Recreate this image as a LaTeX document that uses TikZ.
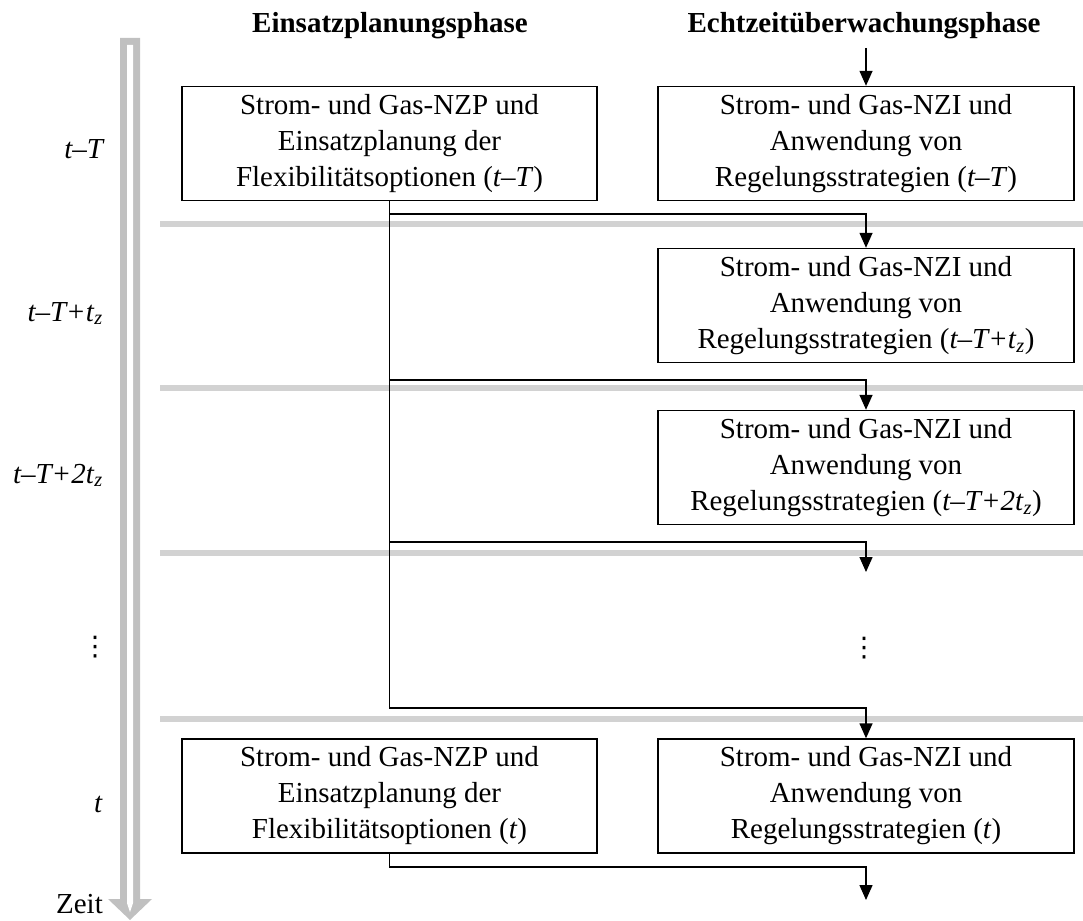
\documentclass[tikz,border=0pt]{standalone}
\usepackage{fontspec}
\setmainfont{Liberation Serif}
\newfontfamily\symfont{DejaVu Sans}
\usetikzlibrary{arrows.meta}
\definecolor{arrowgray}{RGB}{192,192,192}
\definecolor{linegray}{RGB}{210,210,210}
% italic t with subscript z
\newcommand{\tz}{\textit{t}\textsubscript{\textit{z}}}
% vertical ellipsis glyph
\newcommand{\dotcol}{{\symfont\fontsize{27}{27}\selectfont ⋮}}

\begin{document}
\begin{tikzpicture}[x=1pt,y=-1pt,
  every node/.style={font=\fontsize{29}{36}\selectfont, inner sep=0pt},
  box/.style={draw, line width=1.4pt, minimum width=416pt, minimum height=114pt, align=center},
  flow/.style={line width=1.4pt},
  arr/.style={flow, -{Triangle[width=13pt,length=15pt]}},
  sep/.style={linegray, line width=6pt},
  head/.style={font=\fontsize{29}{36}\selectfont\bfseries, anchor=base},
  tlabel/.style={anchor=base east}]

\useasboundingbox (0,0) rectangle (1083,920);

% hollow time arrow
\fill[arrowgray] (120,38) -- (140,38) -- (140,899) -- (152,899) -- (130,920)
  -- (108,899) -- (120,899) -- cycle;
\fill[white] (127,45) -- (133,45) -- (133,903) -- (130,912) -- (127,903) -- cycle;

% separators between time steps
\foreach \yy in {223.5,388,553,719}
  \draw[sep] (160,\yy) -- (1083,\yy);

% column headings
\node[head] (h1) at (390,33) {Einsatzplanungsphase};
\node[head] (h2) at (864,33) {Echtzeitüberwachungsphase};

% time labels
\node[tlabel] (l1) at (105,159) {\textit{t–T}};
\node[tlabel] (l2) at (103,321) {\textit{t–T+}\tz};
\node[tlabel] (l3) at (103,483) {\textit{t–T+2}\tz};
\node (l4) at (95,647) {\dotcol};
\node[tlabel] (l5) at (103,812) {\textit{t}};
\node[tlabel] (zeit) at (103,913) {Zeit};

% planning boxes
\node[box, minimum width=415pt] (p1) at (389.5,143.5)
  {Strom- und Gas-NZP und\\Einsatzplanung der\\Flexibilitätsoptionen (\textit{t–T})};
\node[box, minimum width=415pt] (p2) at (389.5,796)
  {Strom- und Gas-NZP und\\Einsatzplanung der\\Flexibilitätsoptionen (\textit{t})};

% monitoring boxes
\node[box] (m1) at (866,143.5)
  {Strom- und Gas-NZI und\\Anwendung von\\Regelungsstrategien (\textit{t–T})};
\node[box] (m2) at (866,305.5)
  {Strom- und Gas-NZI und\\Anwendung von\\Regelungsstrategien (\textit{t–T+}\tz)};
\node[box] (m3) at (866,467.5)
  {Strom- und Gas-NZI und\\Anwendung von\\Regelungsstrategien (\textit{t–T+2}\tz)};
\node[box] (m4) at (866,796)
  {Strom- und Gas-NZI und\\Anwendung von\\Regelungsstrategien (\textit{t})};
\node (d2) at (864,648) {\dotcol};

% connector points
\coordinate (start) at (866,48);
\coordinate (j1) at (389.5,214);
\coordinate (j2) at (389.5,380);
\coordinate (j3) at (389.5,542);
\coordinate (j4) at (389.5,708);
\coordinate (open) at (866,572);
\coordinate (j5) at (389.5,867);
\coordinate (out) at (866,900);

% connectors
\draw[arr] (start) -- (m1.north);
\draw[arr] (p1.south) -- (j4) -| (m4.north);
\draw[arr] (j1) -| (m2.north);
\draw[arr] (j2) -| (m3.north);
\draw[arr] (j3) -| (open);
\draw[arr] (p2.south) -- (j5) -| (out);
\end{tikzpicture}
\end{document}
